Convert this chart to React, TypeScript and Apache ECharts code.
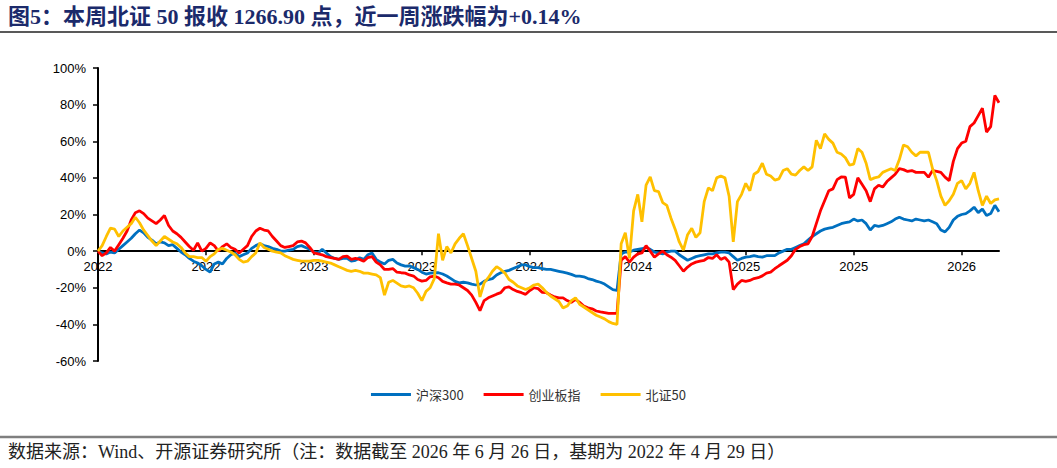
import React, { useEffect, useRef } from 'react';
import * as echarts from 'echarts';

const titleText = '图5：本周北证 50 报收 1266.90 点，近一周涨跌幅为+0.14%';
const sourceText = '数据来源：Wind、开源证券研究所（注：数据截至 2026 年 6 月 26 日，基期为 2022 年 4 月 29 日）';

const startDate = '2022-04-29';
const pointCount = 218;
const tickStep = 26;
const tickLabels = ['2022', '2022', '2023', '2023', '2024', '2024', '2025', '2025', '2026'];
const seriesNames = ['沪深300', '创业板指', '北证50'];
const seriesColors = ['#0070C0', '#FF0000', '#FFC000'];
const yMin = -60;
const yMax = 100;
const yStep = 20;

// 沪深300 (%)
const hs300 = [
  0, -1, -1.5, -0.5, -1, 1, 3, 5, 7, 9.5,
  11.5, 10, 7.5, 6, 4, 5, 4.5, 3, 3.5, 1.5,
  -0.5, -2, -4, -5.5, -6.5, -8, -10, -11.5, -7, -6,
  -7, -4, -2, -1, -3, -2, -1, 1.5, 3, 4,
  3, 2.5, 1.5, 1, 0, 0, 0.5, 1, 2.5, 3,
  2, 1, -0.5, -1, 1, -1, -3, -4, -4.5, -4,
  -4, -5.5, -5, -3.6, -4.5, -2, -1, -4.5, -6, -7,
  -5, -4.5, -6.5, -7.5, -8.2, -8, -9, -10, -11.5, -12.5,
  -12, -11.8, -11.8, -12.5, -13.6, -15, -16.5, -17.3, -17, -17.3,
  -18, -18.5, -18, -16.5, -15.5, -15, -13, -11.8, -11, -10.5,
  -9.5, -8.5, -7.5, -7.5, -8.5, -9, -9, -9.5, -10, -10,
  -10.5, -11, -11.5, -12, -12.7, -13.6, -13.6, -14, -15, -15.5,
  -16.4, -17, -18, -19.5, -21, -21.5, -1.5, -0.5, -0.5, 0.5,
  1, 1.3, 2, 1, -0.5, -1, -1.5, -0.5, 0, 0,
  -2, -3.5, -5, -4, -3, -2.5, -2, -1.5, -1.5, -1,
  -0.5, -0.5, -1, -3, -5, -4, -3.3, -3, -2.5, -3,
  -3.3, -2.5, -2.5, -2.5, -1, 0, 1, 1, 2, 3,
  4, 6, 8, 9.5, 11, 12, 12.5, 13, 14, 15,
  15.5, 16, 17.5, 16.5, 17, 15, 11.5, 14, 13.5, 14,
  15, 16, 17.5, 18.5, 17.5, 17, 16.5, 17.5, 17, 16.5,
  17, 16, 15, 11.5, 10.5, 13, 17, 19, 20, 20.5,
  22, 24, 21, 23, 19.5, 20.5, 25, 21.5,
];

// 创业板指 (%)
const cyb = [
  0, -2.5, -1, 2, 0, 3.5, 7, 11, 17, 21,
  22, 20.5, 18, 16.5, 15, 17, 19.5, 14, 11, 9.5,
  7.5, 5, 2.5, 0.5, 4.5, 0, 1.5, 4.5, 3, 0,
  2.5, 4, 2, 1, -1, 1, 3, 8, 11, 12.5,
  11.5, 11, 8, 5.5, 3, 2, 2.5, 3, 5, 5.5,
  4.5, 2, -1, -1.5, -2, -3, -3.5, -4, -4.5, -3,
  -2.7, -4.5, -4, -4.5, -5.5, -3.5, -3, -6, -7.5, -10,
  -10, -9.5, -11.5, -11.8, -12, -13, -13.6, -15.5, -16.4, -16,
  -14, -13.6, -14.5, -16.5, -17.3, -18, -18, -18.5, -20, -21.5,
  -24, -28, -32.5, -27, -25.5, -24.5, -23.5, -22.7, -20, -19.5,
  -21, -22, -22.7, -23.6, -21.5, -20, -20.5, -22.5, -22.7, -24,
  -25, -25.5, -25.5, -27, -28, -26.4, -28, -30, -31, -31.5,
  -32.7, -33.2, -33.6, -34, -34, -34, -5, -3, -6, -3.3,
  -1.5, -1, 3, 0, -3.3, -1.5, 0, -2, -3.3, -5,
  -8, -11, -8.7, -7, -6, -5.5, -5, -3.5, -4, -2,
  -4.5, -3.5, -6, -21, -18, -16, -16.5, -16, -15, -14.5,
  -13.5, -12, -11.5, -9.6, -8, -6.5, -5, -2.5, 1, 2.5,
  3.5, 4, 8, 15, 22, 27.5, 33, 34, 39, 40.5,
  40.4, 29, 31, 40, 36.5, 33, 27, 34, 36, 35,
  38, 40, 42, 45, 44.5, 43.5, 44, 43, 43, 43,
  40.4, 44, 43.5, 43, 40.4, 38.5, 49, 56, 59, 60,
  68, 70, 74, 78, 65, 68, 85, 81,
];

// 北证50 (%)
const bz50 = [
  0, 3, 8, 12.5, 12, 8, 11, 13, 15, 18.5,
  15.5, 11.5, 8.5, 5.5, 3, 5.5, 8, 6.5, 5, 4,
  2, -1, -3, -3, -3.5, -3.5, -5.5, -3, -1.5, 1,
  1.5, 0.5, -0.5, -2, -4.5, -6, -5.5, -3, -1, 4.5,
  2, 1, 0, -0.5, -1, -2.5, -3.5, -4.5, -5, -5.5,
  -5.5, -5.5, -5, -5, -5.5, -6, -6.5, -7.5, -8.5, -9.5,
  -10.5, -11, -10.5, -11, -12, -12, -12.5, -13, -14.5, -24,
  -17, -16, -17.5, -19, -19.5, -19, -20, -23, -27, -22,
  -20, -15, 9.5, -5, 2.5, -1, 4, 7, 9.5, 3,
  -4, -11, -25, -17.3, -14.5, -11, -8.5, -10, -12, -15.5,
  -17, -19, -20, -21, -20, -18.5, -18, -20, -22.5, -24.5,
  -26, -27.5, -31, -30, -27, -25.5, -29, -30.5, -32, -33.5,
  -35, -36, -37, -38.5, -39.5, -40, 4, 10, -4, 22,
  31, 16, 36, 40.5, 33, 32.5, 26.5, 25, 18, 12,
  5, 0.5, 9, 12.5, 7.5, 10, 27, 34.5, 33, 40,
  41, 40, 30, 5, 27, 31, 37, 33, 42, 43.5,
  48, 42, 41, 38.8, 39.5, 44, 45, 42, 41.5, 44,
  46, 44, 46, 60.5, 56, 64, 61, 59, 54, 53,
  51, 47, 47.5, 56, 54, 48, 39, 40, 40.5, 43,
  44, 45, 44, 50, 58, 57, 54, 52, 54, 54,
  54, 45, 38.5, 30, 25, 27.5, 31, 37, 38.5, 34,
  37, 43, 33, 25, 30, 26, 28, 28.5,
];

const seriesValues = [hs300, cyb, bz50];

function buildCategories(): string[] {
  const out: string[] = [];
  const base = new Date(startDate + 'T00:00:00Z').getTime();
  for (let i = 0; i < pointCount; i++) {
    out.push(new Date(base + i * 7 * 86400000).toISOString().slice(0, 10));
  }
  return out;
}

const categories = buildCategories();

const gridTop = 68;
const gridBottom = 107;
const chartH = 468;

export default function App() {
  const ref = useRef<HTMLDivElement>(null);

  useEffect(() => {
    if (!ref.current) return;
    const chart = echarts.init(ref.current, undefined, { renderer: 'svg' });
    const axisFont = '"Liberation Sans", Arial, sans-serif';
    // lift the category axis to the 0% level of the value axis
    const plotH = chartH - gridTop - gridBottom;
    const zeroFromBottom = (plotH * (0 - yMin)) / (yMax - yMin);
    chart.setOption({
      animation: false,
      backgroundColor: '#ffffff',
      grid: { left: 98, right: 58, top: gridTop, bottom: gridBottom, containLabel: false },
      xAxis: {
        type: 'category',
        data: categories,
        boundaryGap: false,
        offset: -zeroFromBottom,
        axisLine: { show: true, onZero: false, lineStyle: { color: '#000', width: 2 } },
        axisTick: { show: true, interval: tickStep - 1, length: 4, lineStyle: { color: '#000', width: 1.5 } },
        axisLabel: {
          interval: tickStep - 1,
          formatter: (_v: string, i: number) => (i % tickStep === 0 ? tickLabels[i / tickStep] ?? '' : ''),
          color: '#000',
          fontSize: 13,
          fontFamily: axisFont,
          margin: 9,
        },
        splitLine: { show: false },
      },
      yAxis: {
        type: 'value',
        min: yMin,
        max: yMax,
        interval: yStep,
        axisLine: { show: true, onZero: false, lineStyle: { color: '#000', width: 2 } },
        axisTick: { show: true, length: 5, lineStyle: { color: '#000', width: 1.5 } },
        axisLabel: { formatter: '{value}%', color: '#000', fontSize: 13, fontFamily: axisFont, margin: 12 },
        splitLine: { show: false },
      },
      legend: {
        data: seriesNames,
        left: 'center',
        top: 383,
        icon: 'rect',
        itemWidth: 40,
        itemHeight: 3,
        itemGap: 20,
        textStyle: { fontSize: 13, color: '#333', fontFamily: '"Noto Sans CJK SC", "Liberation Sans", sans-serif' },
      },
      series: seriesNames.map((name, k) => ({
        name,
        type: 'line',
        data: seriesValues[k],
        showSymbol: false,
        symbol: 'none',
        lineStyle: { width: 2.8, color: seriesColors[k] },
        itemStyle: { color: seriesColors[k] },
        emphasis: { disabled: true },
      })),
      graphic: [
        {
          type: 'text',
          left: 8,
          top: 5,
          style: {
            text: titleText,
            fontSize: 22,
            fontWeight: 'bold',
            fontFamily: '"Liberation Serif", "Noto Sans CJK SC", serif',
            fill: '#1B2A6B',
          },
        },
        { type: 'line', shape: { x1: 0, y1: 32, x2: 1057, y2: 32 }, style: { stroke: '#222', lineWidth: 1.5 } },
        { type: 'line', shape: { x1: 0, y1: 437, x2: 1057, y2: 437 }, style: { stroke: '#7f7f7f', lineWidth: 2.5 } },
        {
          type: 'text',
          left: 8,
          top: 443,
          style: {
            text: sourceText,
            fontSize: 18,
            fontFamily: '"Liberation Serif", "Noto Sans CJK SC", serif',
            fill: '#222',
          },
        },
      ],
    });
    return () => chart.dispose();
  }, []);

  return (
    <div
      ref={ref}
      style={{ position: 'fixed', left: 0, top: 0, width: 1057, height: 468, background: '#fff' }}
    />
  );
}
